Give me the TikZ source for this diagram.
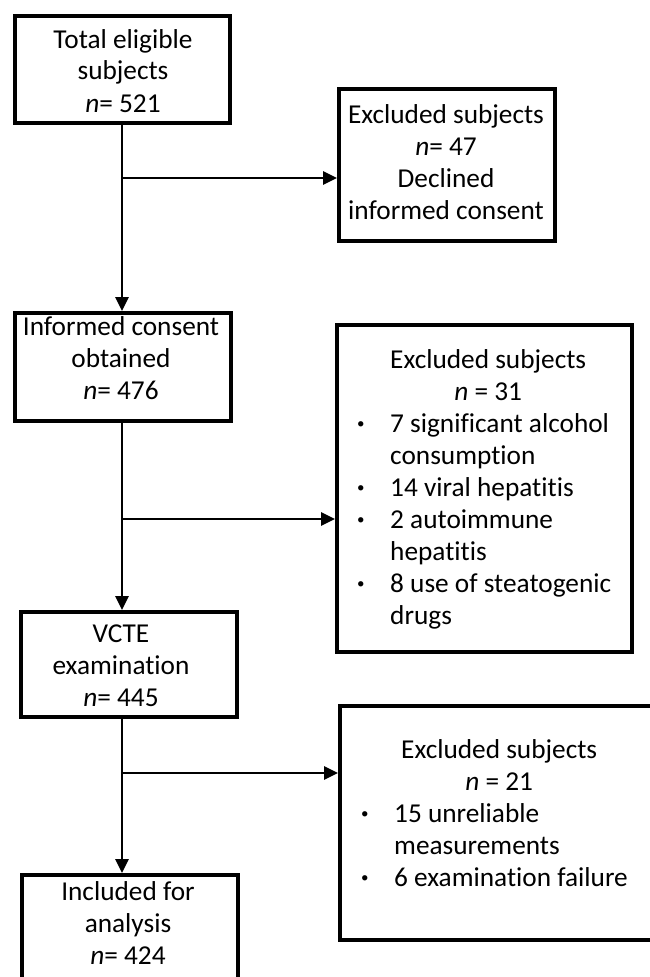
\documentclass[tikz,border=0pt]{standalone}
\usepackage{graphicx}
\usepackage{fontspec}
\setmainfont{Carlito}[Ligatures=NoCommon]
\usetikzlibrary{arrows.meta}
\newcommand{\fcbul}{\hspace*{3pt}\raisebox{4pt}{\scalebox{0.55}{•}}}
\begin{document}
\begin{tikzpicture}[x=1pt,y=-1pt,
  box/.style 2 args={draw=black, line width=3.8pt, rectangle, inner sep=0pt, minimum width=#1, minimum height=#2},
  txt/.style={inner sep=0pt, anchor=base, font=\fontsize{27.3}{32}\selectfont},
  conn/.style={line width=2.5pt, draw=black, -{Triangle[length=14pt,width=13pt]}}]
\useasboundingbox (0,0) rectangle (650,977);
\begin{scope}
\clip (0,0) rectangle (650,977);
% boxes
\node[box={215pt}{107pt}] (b1) at (122.5,69.5) {};
\node[box={216pt}{152pt}] (b2) at (447,165) {};
\node[box={216pt}{108pt}] (b3) at (123,367) {};
\node[box={295pt}{327pt}] (b4) at (484.5,488.5) {};
\node[box={216pt}{105pt}] (b5) at (129,664.5) {};
\node[box={338pt}{234pt}] (b6) at (509,823) {};
\node[box={216pt}{133pt}] (b7) at (130,941.5) {};
% texts
\node[txt] (t1) at (123,48) {\begin{tabular}[t]{@{}c@{}}Total eligible\\subjects\\\textit{n}= 521\end{tabular}};
\node[txt] (t2) at (446,123) {\begin{tabular}[t]{@{}c@{}}Excluded subjects\\\textit{n}= 47\\Declined\\informed consent\end{tabular}};
\node[txt] (t3) at (121,335) {\begin{tabular}[t]{@{}c@{}}Informed consent\\obtained\\\textit{n}= 476\end{tabular}};
\node[txt, anchor=base west] (t4) at (354,368) {\begin{tabular}[t]{@{}p{36pt}@{}p{232pt}@{}}
\multicolumn{2}{@{}c@{}}{Excluded subjects}\\
\multicolumn{2}{@{}c@{}}{\textit{n} = 31}\\
\fcbul&7 significant alcohol\\
&consumption\\
\fcbul&14 viral hepatitis\\
\fcbul&2 autoimmune\\
&hepatitis\\
\fcbul&8 use of steatogenic\\
&drugs
\end{tabular}};
\node[txt] (t5) at (121,642) {\begin{tabular}[t]{@{}c@{}}VCTE\\examination\\\textit{n}= 445\end{tabular}};
\node[txt, anchor=base west] (t6) at (358,758) {\begin{tabular}[t]{@{}p{36pt}@{}p{246pt}@{}}
\multicolumn{2}{@{}c@{}}{Excluded subjects}\\
\multicolumn{2}{@{}c@{}}{\textit{n} = 21}\\
\fcbul&15 unreliable\\
&measurements\\
\fcbul&6 examination failure
\end{tabular}};
\node[txt] (t7) at (128,900) {\begin{tabular}[t]{@{}c@{}}Included for\\analysis\\\textit{n}= 424\end{tabular}};
% connectors
\coordinate (spine) at (122,0);
\coordinate (j1) at (122,178);
\coordinate (j2) at (122,519);
\coordinate (j3) at (122,773);
\draw[conn] (b1.south -| spine) -- (b3.north -| spine);
\draw[conn] (b3.south -| spine) -- (b5.north -| spine);
\draw[conn] (b5.south -| spine) -- (b7.north -| spine);
\draw[conn] (j1) -- (j1 -| b2.west);
\draw[conn] (j2) -- (j2 -| b4.west);
\draw[conn] (j3) -- (j3 -| b6.west);
\end{scope}
\end{tikzpicture}
\end{document}
